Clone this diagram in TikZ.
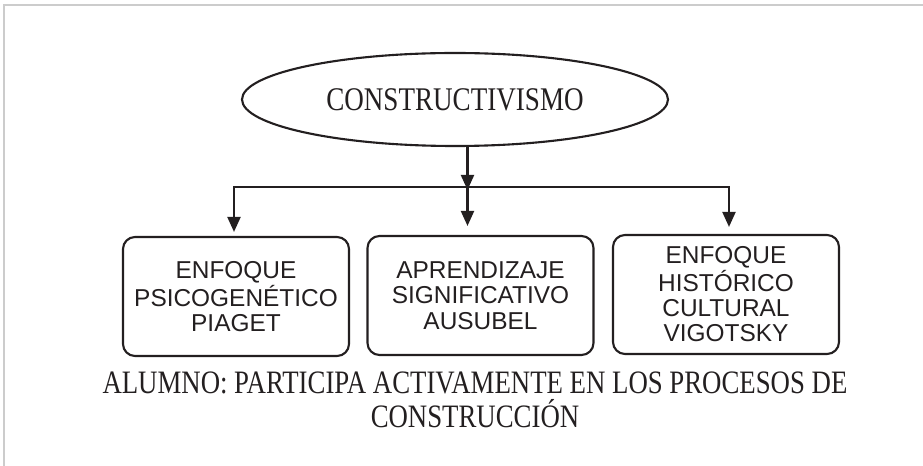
\documentclass[tikz,border=0pt]{standalone}
\usepackage{fontspec}
\setmainfont{Liberation Serif}[FakeStretch=0.82]
\setsansfont{Liberation Sans}
\usepackage{tikz}
\usetikzlibrary{shapes,arrows.meta}
\definecolor{ink}{RGB}{35,31,32}

\begin{document}
\begin{tikzpicture}[line width=1.2pt, ink,
   enfoque/.style={draw, rounded corners=0.24cm, minimum width=4.52cm,
      minimum height=2.38cm, inner sep=0, align=center,
      font=\sffamily\fontsize{13.9}{14.4}\selectfont},
   arr/.style={-{Triangle[length=0.3cm,width=0.26cm]}, shorten >=0.08cm}]
   \useasboundingbox (0,0) rectangle (18.46,9.32);
   \draw[color=gray!40, line width=0.8pt] (0.08,0) -- (0.08,9.22) -- (18.46,9.22);
   \node[draw, ellipse, minimum width=8.52cm, minimum height=1.86cm, inner sep=0,
      font=\fontsize{18.8}{20}\selectfont] (constr) at (9.10,7.33) {CONSTRUCTIVISMO};
   \node[enfoque] (piaget) at (4.72,3.39) {ENFOQUE\\PSICOGENÉTICO\\PIAGET};
   \node[enfoque] (ausubel) at (9.61,3.41) {APRENDIZAJE\\SIGNIFICATIVO\\AUSUBEL};
   \node[enfoque] (vigotsky) at (14.52,3.43) {ENFOQUE\\HISTÓRICO\\CULTURAL\\VIGOTSKY};
   \coordinate (junction) at (9.35,5.58);
   \draw[arr, shorten >=-0.06cm] (constr.south -| junction) -- (junction);
   \draw[arr, shorten >=0.18cm] (junction) -- (junction |- ausubel.north);
   \draw[arr] (junction) -| ([xshift=-0.04cm]piaget.north);
   \draw[arr, shorten >=0.14cm] (junction) -| ([xshift=0.06cm]vigotsky.north);
   \node[align=center, anchor=north, inner sep=0, font=\fontsize{18.6}{19.3}\selectfont]
      (alumno) at (9.50,1.90)
      {ALUMNO: PARTICIPA ACTIVAMENTE EN LOS PROCESOS DE\\CONSTRUCCIÓN};
\end{tikzpicture}
\end{document}
